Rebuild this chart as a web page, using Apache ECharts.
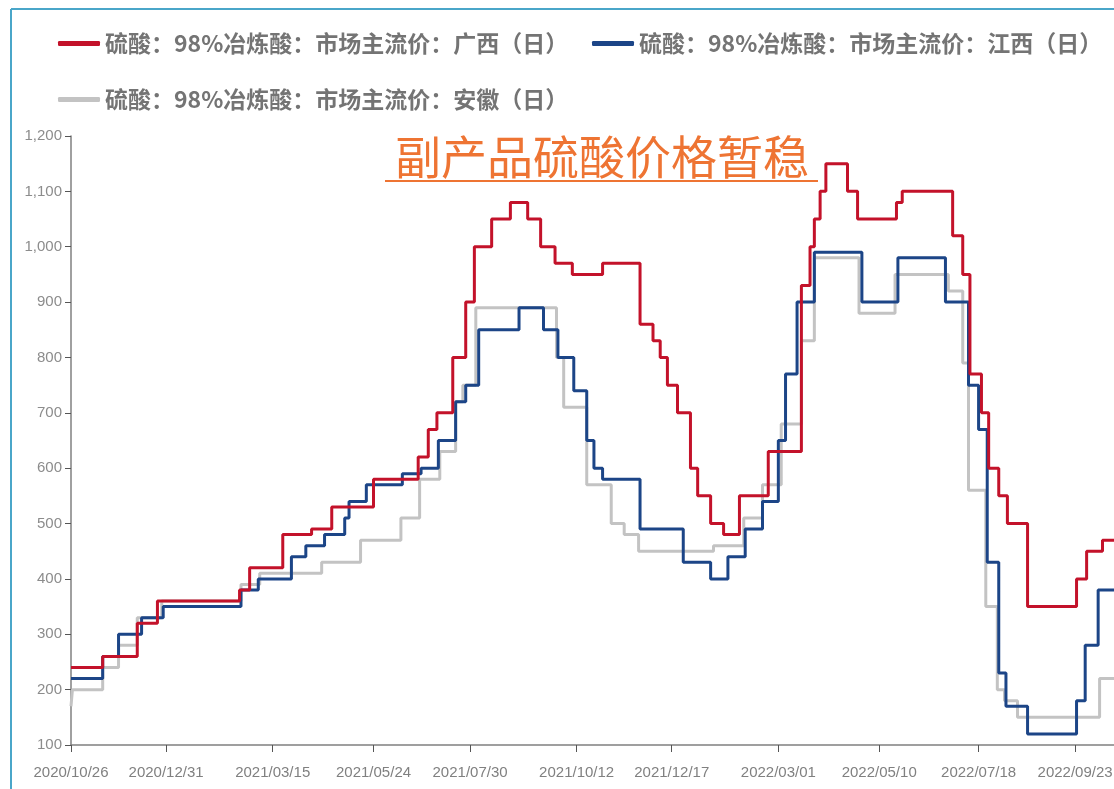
<!DOCTYPE html>
<html>
<head>
<meta charset="utf-8">
<script src="https://cdn.jsdelivr.net/npm/echarts@6/dist/echarts.min.js"></script>
<style>
  html, body { margin: 0; padding: 0; background: #fff; }
  #chart { width: 1114px; height: 789px; }
</style>
</head>
<body>
<div id="chart"></div>
<script>
// 数据：每个点是价格变动的日期和新价格（阶梯线）
const startDate = '2020/10/26';
const endDate = '2022/10/20';
const tickLabels = ['2020/10/26', '2020/12/31', '2021/03/15', '2021/05/24', '2021/07/30', '2021/10/12',
  '2021/12/17', '2022/03/01', '2022/05/10', '2022/07/18', '2022/09/23'];

const nameGX = '硫酸：98%冶炼酸：市场主流价：广西（日）';
const nameJX = '硫酸：98%冶炼酸：市场主流价：江西（日）';
const nameAH = '硫酸：98%冶炼酸：市场主流价：安徽（日）';

const guangxi = [
  ['2020/10/26', 240], ['2020/11/17', 260], ['2020/12/11', 320], ['2020/12/25', 360],
  ['2021/02/20', 380], ['2021/02/27', 420], ['2021/03/22', 480], ['2021/04/11', 490],
  ['2021/04/25', 530], ['2021/05/24', 580], ['2021/06/24', 620], ['2021/07/01', 670],
  ['2021/07/07', 700], ['2021/07/18', 800], ['2021/07/27', 900], ['2021/08/02', 1000],
  ['2021/08/14', 1050], ['2021/08/27', 1080], ['2021/09/08', 1050], ['2021/09/17', 1000],
  ['2021/09/27', 970], ['2021/10/09', 950], ['2021/10/30', 970], ['2021/11/25', 860],
  ['2021/12/04', 830], ['2021/12/09', 800], ['2021/12/14', 750], ['2021/12/21', 700],
  ['2021/12/30', 600], ['2022/01/04', 550], ['2022/01/13', 500], ['2022/01/22', 480],
  ['2022/02/02', 550], ['2022/02/22', 630], ['2022/03/17', 930], ['2022/03/23', 1000],
  ['2022/03/26', 1050], ['2022/03/30', 1100], ['2022/04/03', 1150], ['2022/04/18', 1100],
  ['2022/04/25', 1050], ['2022/05/22', 1080], ['2022/05/26', 1100], ['2022/06/30', 1020],
  ['2022/07/07', 950], ['2022/07/12', 770], ['2022/07/20', 700], ['2022/07/25', 600],
  ['2022/08/01', 550], ['2022/08/07', 500], ['2022/08/21', 350], ['2022/09/24', 400],
  ['2022/10/01', 450], ['2022/10/12', 470], ['2022/10/20', 470]
];

const jiangxi = [
  ['2020/10/26', 220], ['2020/11/17', 260], ['2020/11/28', 300], ['2020/12/14', 330],
  ['2020/12/29', 350], ['2021/02/21', 380], ['2021/03/05', 400], ['2021/03/28', 440],
  ['2021/04/07', 460], ['2021/04/20', 480], ['2021/05/04', 510], ['2021/05/07', 540],
  ['2021/05/19', 570], ['2021/06/13', 590], ['2021/06/26', 600], ['2021/07/08', 650],
  ['2021/07/20', 720], ['2021/07/27', 750], ['2021/08/05', 850], ['2021/09/02', 890],
  ['2021/09/19', 850], ['2021/09/29', 800], ['2021/10/10', 740], ['2021/10/19', 650],
  ['2021/10/24', 600], ['2021/10/30', 580], ['2021/11/25', 490], ['2021/12/25', 430],
  ['2022/01/13', 400], ['2022/01/25', 440], ['2022/02/06', 490], ['2022/02/18', 540],
  ['2022/03/01', 650], ['2022/03/06', 770], ['2022/03/14', 900], ['2022/03/26', 990],
  ['2022/04/28', 900], ['2022/05/23', 980], ['2022/06/25', 900], ['2022/07/11', 750],
  ['2022/07/18', 670], ['2022/07/24', 430], ['2022/08/01', 230], ['2022/08/06', 170],
  ['2022/08/21', 120], ['2022/09/24', 180], ['2022/09/30', 280], ['2022/10/09', 380],
  ['2022/10/20', 380]
];

const anhui = [
  ['2020/10/26', 170], ['2020/10/27', 200], ['2020/11/17', 240], ['2020/11/28', 280],
  ['2020/12/11', 330], ['2020/12/28', 360], ['2021/02/21', 390], ['2021/03/06', 410],
  ['2021/04/18', 430], ['2021/05/15', 470], ['2021/06/12', 510], ['2021/06/25', 580],
  ['2021/07/09', 630], ['2021/07/20', 720], ['2021/07/25', 750], ['2021/08/03', 890],
  ['2021/09/28', 800], ['2021/10/03', 710], ['2021/10/19', 570], ['2021/11/05', 500],
  ['2021/11/14', 480], ['2021/11/24', 450], ['2022/01/15', 460], ['2022/02/05', 510],
  ['2022/02/18', 570], ['2022/03/03', 680], ['2022/03/17', 830], ['2022/03/26', 980],
  ['2022/04/26', 880], ['2022/05/21', 950], ['2022/06/27', 920], ['2022/07/07', 790],
  ['2022/07/11', 560], ['2022/07/23', 350], ['2022/07/31', 200], ['2022/08/05', 180],
  ['2022/08/14', 150], ['2022/10/10', 220], ['2022/10/20', 220]
];

const chart = echarts.init(document.getElementById('chart'));

const toTime = s => new Date(s).getTime();
const pad = n => (n < 10 ? '0' + n : '' + n);
const fmtDate = v => {
  const d = new Date(v);
  return d.getFullYear() + '/' + pad(d.getMonth() + 1) + '/' + pad(d.getDate());
};
const tickValues = tickLabels.map(toTime);
const toPoints = arr => arr.map(p => [toTime(p[0]), p[1]]);

const legendText = { fontSize: 23, color: '#747474', fontWeight: 'bold', fontFamily: 'Noto Sans CJK SC' };
const legendAt = (name, left, top) => ({
  data: [name], left: left, top: top, padding: 0, icon: 'roundRect',
  itemWidth: 42, itemHeight: 5, textStyle: legendText
});

const line = (name, data, color) => ({
  name: name, type: 'line', data: toPoints(data), step: 'end',
  showSymbol: false, symbol: 'none',
  lineStyle: { color: color, width: 3 }, itemStyle: { color: color }
});

const orange = '#EE7433';
const frame = '#4aa6c9';

const option = {
  animation: false,
  legend: [
    legendAt(nameGX, 58, 32),
    legendAt(nameJX, 592, 32),
    legendAt(nameAH, 58, 88)
  ],
  grid: { left: 71, right: 0, top: 136, bottom: 44, outerBoundsMode: 'none' },
  xAxis: {
    type: 'value', min: toTime(startDate), max: toTime(endDate),
    axisLine: { lineStyle: { color: '#808080', width: 1.5 } },
    axisTick: { show: true, length: 7, customValues: tickValues, lineStyle: { color: '#555' } },
    axisLabel: {
      customValues: tickValues, formatter: fmtDate, color: '#808080',
      fontSize: 15, margin: 20, fontFamily: 'Liberation Sans'
    },
    splitLine: { show: false }
  },
  yAxis: {
    type: 'value', min: 100, max: 1200, interval: 100,
    axisLine: { show: true, lineStyle: { color: '#808080', width: 1.5 } },
    axisTick: { show: true, length: 6, lineStyle: { color: '#555' } },
    axisLabel: {
      color: '#8c8c8c', fontSize: 15, margin: 9, fontFamily: 'Liberation Sans',
      formatter: v => echarts.format.addCommas(v)
    },
    splitLine: { show: false }
  },
  series: [
    line(nameAH, anhui, '#c3c3c3'),
    line(nameJX, jiangxi, '#1c4587'),
    line(nameGX, guangxi, '#c3122a')
  ],
  graphic: [
    { type: 'line', shape: { x1: 11, y1: 9, x2: 1114, y2: 9 }, style: { stroke: frame, lineWidth: 2 } },
    { type: 'line', shape: { x1: 11, y1: 9, x2: 11, y2: 789 }, style: { stroke: frame, lineWidth: 2 } },
    {
      type: 'text', x: 602, y: 157,
      style: { text: '副产品硫酸价格暂稳', fill: orange, fontSize: 46, fontFamily: 'Noto Sans CJK SC', align: 'center', verticalAlign: 'middle' }
    },
    { type: 'line', shape: { x1: 385, y1: 181, x2: 818, y2: 181 }, style: { stroke: orange, lineWidth: 2 } }
  ]
};

chart.setOption(option);
</script>
</body>
</html>
